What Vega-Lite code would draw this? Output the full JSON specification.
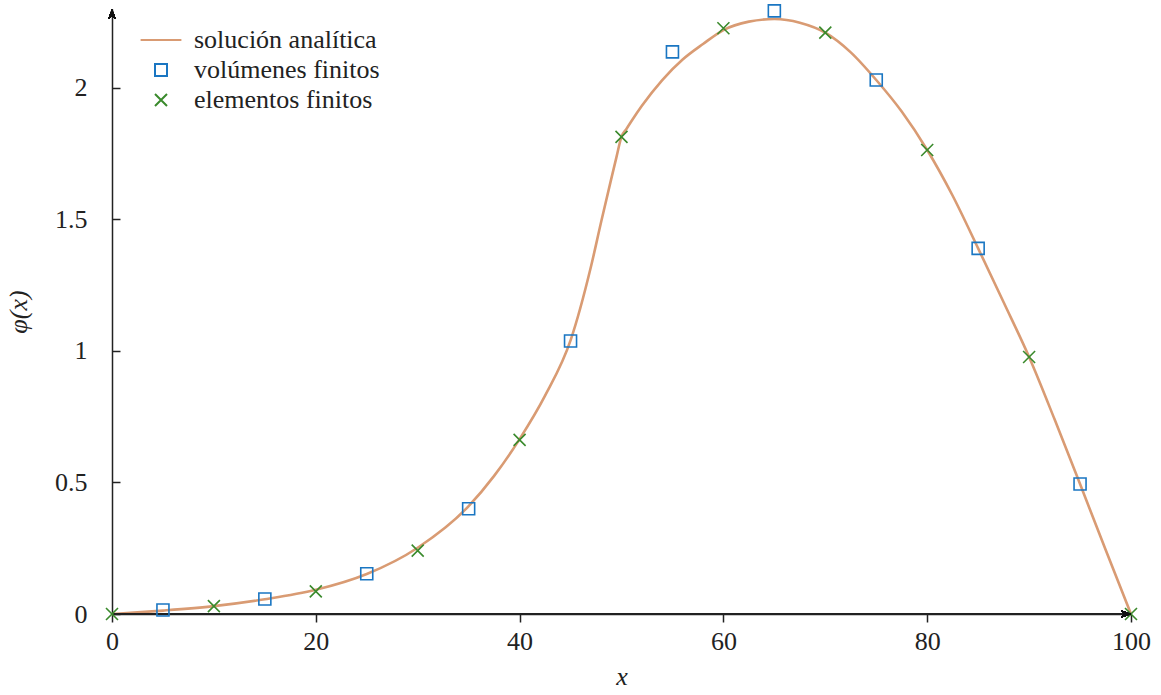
{
  "$schema": "https://vega.github.io/schema/vega-lite/v6.json",
  "width": 1019,
  "height": 605,
  "autosize": {"type": "none"},
  "padding": {"left": 112, "top": 9, "right": 30, "bottom": 81},
  "background": "white",
  "config": {
    "view": {"stroke": null},
    "font": "Liberation Serif",
    "axis": {
      "grid": false,
      "domainColor": "#222222",
      "domainWidth": 1.5,
      "tickColor": "#222222",
      "tickWidth": 1.5,
      "labelFont": "Liberation Serif",
      "labelFontSize": 26,
      "labelColor": "#222222",
      "labelFlush": false,
      "titleFont": "Liberation Serif",
      "titleFontSize": 26,
      "titleFontWeight": "normal",
      "titleColor": "#222222"
    },
    "legend": {
      "labelFont": "Liberation Serif",
      "labelFontSize": 26,
      "labelColor": "#222222",
      "labelLimit": 0
    }
  },
  "datasets": {
    "d": [
      {"x": 0, "y": 0, "serie": "solución analítica"},
      {"x": 2.5, "y": 0.006, "serie": "solución analítica"},
      {"x": 5, "y": 0.013, "serie": "solución analítica"},
      {"x": 10, "y": 0.03, "serie": "solución analítica"},
      {"x": 15, "y": 0.056, "serie": "solución analítica"},
      {"x": 20, "y": 0.092, "serie": "solución analítica"},
      {"x": 25, "y": 0.152, "serie": "solución analítica"},
      {"x": 30, "y": 0.252, "serie": "solución analítica"},
      {"x": 35, "y": 0.41, "serie": "solución analítica"},
      {"x": 37.5, "y": 0.525, "serie": "solución analítica"},
      {"x": 40, "y": 0.665, "serie": "solución analítica"},
      {"x": 42.5, "y": 0.83, "serie": "solución analítica"},
      {"x": 45, "y": 1.04, "serie": "solución analítica"},
      {"x": 47, "y": 1.32, "serie": "solución analítica"},
      {"x": 48, "y": 1.49, "serie": "solución analítica"},
      {"x": 49, "y": 1.655, "serie": "solución analítica"},
      {"x": 49.5, "y": 1.736, "serie": "solución analítica"},
      {"x": 50, "y": 1.815, "serie": "solución analítica"},
      {"x": 50.5, "y": 1.845, "serie": "solución analítica"},
      {"x": 51, "y": 1.875, "serie": "solución analítica"},
      {"x": 52, "y": 1.932, "serie": "solución analítica"},
      {"x": 54, "y": 2.03, "serie": "solución analítica"},
      {"x": 56, "y": 2.108, "serie": "solución analítica"},
      {"x": 58, "y": 2.167, "serie": "solución analítica"},
      {"x": 60, "y": 2.22, "serie": "solución analítica"},
      {"x": 62.5, "y": 2.252, "serie": "solución analítica"},
      {"x": 65, "y": 2.262, "serie": "solución analítica"},
      {"x": 67.5, "y": 2.248, "serie": "solución analítica"},
      {"x": 70, "y": 2.21, "serie": "solución analítica"},
      {"x": 72.5, "y": 2.135, "serie": "solución analítica"},
      {"x": 75, "y": 2.03, "serie": "solución analítica"},
      {"x": 77.5, "y": 1.91, "serie": "solución analítica"},
      {"x": 80, "y": 1.764, "serie": "solución analítica"},
      {"x": 82.5, "y": 1.59, "serie": "solución analítica"},
      {"x": 85, "y": 1.39, "serie": "solución analítica"},
      {"x": 87.5, "y": 1.185, "serie": "solución analítica"},
      {"x": 90, "y": 0.977, "serie": "solución analítica"},
      {"x": 92.5, "y": 0.74, "serie": "solución analítica"},
      {"x": 95, "y": 0.494, "serie": "solución analítica"},
      {"x": 97.5, "y": 0.245, "serie": "solución analítica"},
      {"x": 100, "y": 0, "serie": "solución analítica"},
      {"x": 5, "y": 0.015, "serie": "volúmenes finitos"},
      {"x": 15, "y": 0.057, "serie": "volúmenes finitos"},
      {"x": 25, "y": 0.153, "serie": "volúmenes finitos"},
      {"x": 35, "y": 0.4, "serie": "volúmenes finitos"},
      {"x": 45, "y": 1.038, "serie": "volúmenes finitos"},
      {"x": 55, "y": 2.137, "serie": "volúmenes finitos"},
      {"x": 65, "y": 2.293, "serie": "volúmenes finitos"},
      {"x": 75, "y": 2.03, "serie": "volúmenes finitos"},
      {"x": 85, "y": 1.39, "serie": "volúmenes finitos"},
      {"x": 95, "y": 0.494, "serie": "volúmenes finitos"},
      {"x": 0, "y": 0, "serie": "elementos finitos"},
      {"x": 10, "y": 0.03, "serie": "elementos finitos"},
      {"x": 20, "y": 0.086, "serie": "elementos finitos"},
      {"x": 30, "y": 0.241, "serie": "elementos finitos"},
      {"x": 40, "y": 0.662, "serie": "elementos finitos"},
      {"x": 50, "y": 1.814, "serie": "elementos finitos"},
      {"x": 60, "y": 2.227, "serie": "elementos finitos"},
      {"x": 70, "y": 2.21, "serie": "elementos finitos"},
      {"x": 80, "y": 1.764, "serie": "elementos finitos"},
      {"x": 90, "y": 0.977, "serie": "elementos finitos"},
      {"x": 100, "y": 0, "serie": "elementos finitos"}
    ]
  },
  "data": {"name": "d"},
  "encoding": {
    "x": {
      "field": "x",
      "type": "quantitative",
      "scale": {"domain": [0, 100], "nice": false},
      "axis": {
        "title": "x",
        "titleFontStyle": "italic",
        "titlePadding": 9,
        "values": [0, 20, 40, 60, 80, 100],
        "tickSize": 8,
        "labelPadding": 6
      }
    },
    "y": {
      "field": "y",
      "type": "quantitative",
      "scale": {"domain": [0, 2.3], "nice": false},
      "axis": {
        "title": "φ(x)",
        "titleFontStyle": "italic",
        "titlePadding": 23,
        "values": [0, 0.5, 1, 1.5, 2],
        "format": "~g",
        "tickSize": -8,
        "labelPadding": 33
      }
    }
  },
  "layer": [
    {
      "transform": [{"filter": "datum.serie === 'solución analítica'"}],
      "mark": {"type": "line", "color": "#D99B73", "strokeWidth": 2.6, "interpolate": "monotone"}
    },
    {
      "mark": {"type": "rule", "color": "#222222", "strokeWidth": 1.5},
      "encoding": {
        "x": {"datum": 0},
        "y": {"datum": 0},
        "x2": {"datum": 100}
      }
    },
    {
      "transform": [{"filter": "datum.serie !== 'solución analítica'"}],
      "mark": {"type": "point", "filled": false, "size": 144, "strokeWidth": 1.6, "opacity": 1},
      "encoding": {
        "color": {
          "field": "serie",
          "type": "nominal",
          "scale": {
            "domain": ["solución analítica", "volúmenes finitos", "elementos finitos"],
            "range": ["#D99B73", "#1A76C2", "#3A8A2C"]
          },
          "legend": {
            "title": null,
            "orient": "none",
            "legendX": 36,
            "legendY": 18,
            "symbolSize": 144,
            "symbolStrokeWidth": 2,
            "labelOffset": 20,
            "rowPadding": 4,
            "symbolFillColor": "transparent"
          }
        },
        "shape": {
          "field": "serie",
          "type": "nominal",
          "scale": {
            "domain": ["solución analítica", "volúmenes finitos", "elementos finitos"],
            "range": ["M-3.4,0L3.4,0", "M-1,-1L1,-1L1,1L-1,1Z", "M-1,-1L1,1M-1,1L1,-1"]
          },
          "legend": null
        }
      }
    },
    {
      "mark": {"type": "point", "filled": true, "color": "#111111", "size": 100, "opacity": 1, "strokeWidth": 0, "shape": "M0,0L-2,-0.75L-1.4,0L-2,0.75Z"},
      "encoding": {"x": {"datum": 100}, "y": {"datum": 0}}
    },
    {
      "mark": {"type": "point", "filled": true, "color": "#111111", "size": 100, "opacity": 1, "strokeWidth": 0, "shape": "M0,0L-0.75,2L0,1.4L0.75,2Z"},
      "encoding": {"x": {"datum": 0}, "y": {"datum": 2.3}}
    }
  ]
}
